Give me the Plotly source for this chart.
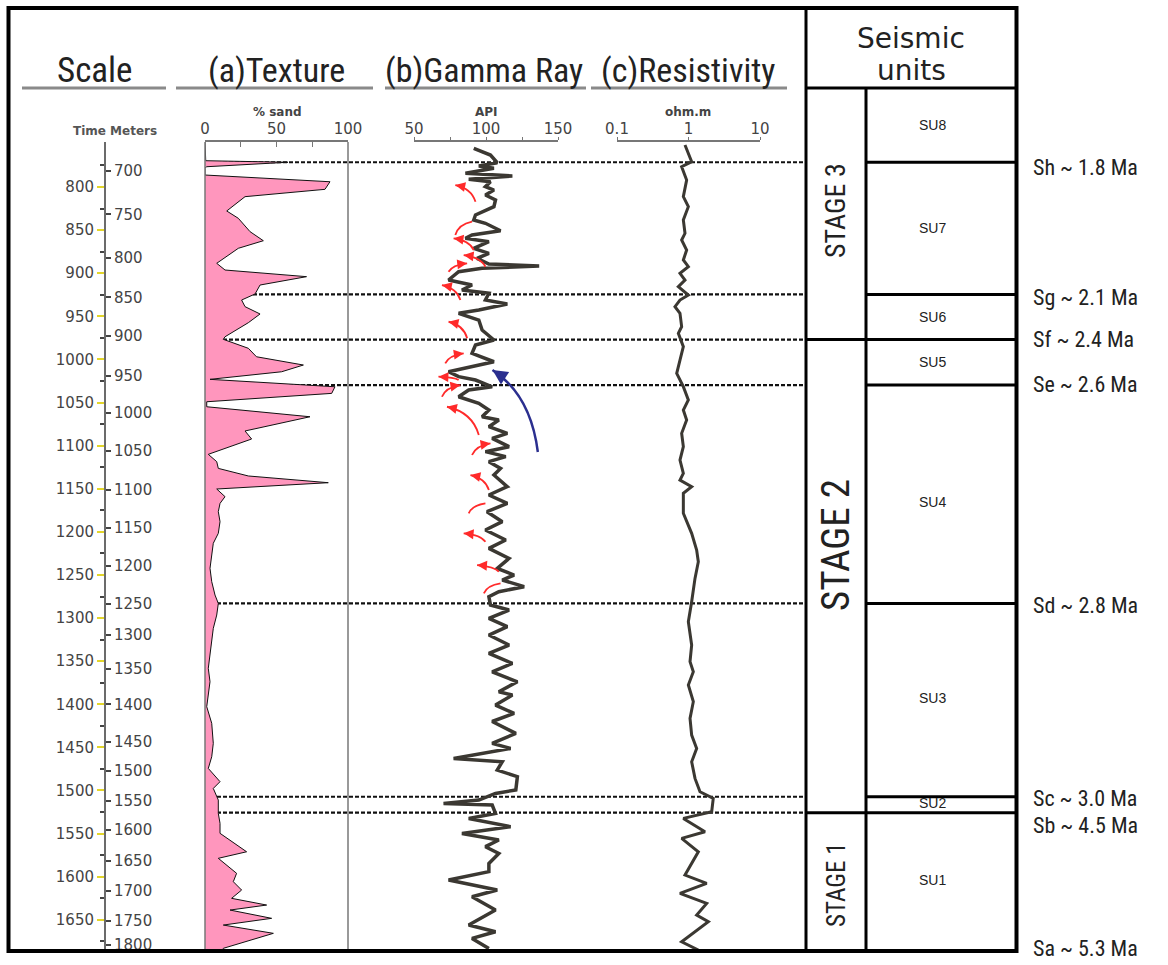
import plotly.graph_objects as go

W, H = 1168, 965

# ---------------- data ----------------
time_ticks = [800, 850, 900, 950, 1000, 1050, 1100, 1150, 1200, 1250, 1300, 1350,
              1400, 1450, 1500, 1550, 1600, 1650]
meter_labels = [700, 750, 800, 850, 900, 950, 1000, 1050, 1100, 1150, 1200, 1250,
                1300, 1350, 1400, 1450, 1500, 1550, 1600, 1650, 1700, 1750, 1800]
meter_time = [781, 831.7, 882, 928, 972.8, 1019.2, 1062, 1106, 1151.5, 1195.6, 1239.6,
              1283.7, 1319.7, 1359.1, 1400, 1443.5, 1477.4, 1512.2, 1545.9, 1581.5,
              1616.3, 1651.1, 1679.3]

tex_time = [747.8, 769.5, 771.3, 776.5, 778.3, 786.1, 793.9, 802.7, 811.2, 827.8, 836.3,
            846.8, 851.8, 862.3, 871.1, 888.5, 896.3, 904, 913.7, 924.1, 931.1, 938.8,
            947.3, 957.4, 973.7, 976.7, 987.1, 996.9, 1006.5, 1014.3, 1023.1, 1031.7,
            1039.4, 1049.1, 1054.9, 1066.5, 1083, 1092.3, 1110.1, 1118.6, 1126.4, 1135.2,
            1143, 1150.3, 1159.2, 1167, 1176.6, 1188.2, 1201.7, 1213.3, 1226.9, 1242.3,
            1257.8, 1273.3, 1283, 1296.5, 1312, 1327.4, 1342.9, 1358.3, 1373.8, 1387.3,
            1402.8, 1422.1, 1445.3, 1460.9, 1474.4, 1489.8, 1497.6, 1511.1, 1526.6,
            1538.1, 1549.7, 1571.1, 1578.7, 1596.1, 1605.8, 1615.5, 1625.1, 1632.9,
            1638.7, 1648.3, 1656.1, 1665.7, 1683.1, 1686.2]
tex_sand = [0, 0.5, 58, 1, 0, 0, 87.4, 83.9, 28, 15.2, 23.3,
            29.1, 31.5, 40.8, 23.3, 8.2, 14, 71, 38.5, 35, 25.6, 28,
            38.5, 30.3, 14, 12.8, 30.3, 36, 68.8, 53.6, 3.5, 90.9,
            88.6, 1.2, 1.2, 73.4, 28, 32.6, 2.3, 8.2, 9.3, 30.3,
            86.2, 8.2, 14, 10.5, 9.3, 10.5, 9.3, 5.8, 4.7, 3.5,
            4.7, 7, 9.3, 8.2, 5.8, 4.7, 3.5, 2.3, 3.5, 2.3,
            1.2, 4.7, 5.8, 4.7, 2.3, 10.5, 5.8, 9.3, 9.3,
            10.5, 10.5, 29.1, 9.3, 22.1, 19.8, 25.6, 18.6, 43.1,
            17.5, 46.6, 12.8, 47.8, 12.8, 12]

gr_time = [755.1, 762.9, 771.8, 775.6, 778.3, 784.1, 787.2, 791.1, 793.8, 799.6, 803.5,
           809.3, 815.1, 822.8, 832.5, 838.3, 842.1, 850.7, 855.7, 859.5, 863.4, 871.1,
           876.9, 882.7, 889.3, 891.6, 894.3, 898.2, 907.9, 913.7, 919.5, 923.3, 931.1,
           935.7, 942.7, 946.5, 954.3, 965.9, 977.5, 983.3, 992.9, 1002.7, 1014.3, 1020,
           1023.9, 1031.7, 1035.5, 1043.3, 1050.9, 1058.7, 1066.5, 1070.3, 1078, 1085.8,
           1091.6, 1101.2, 1107, 1112.8, 1118.6, 1126.4, 1134.1, 1147.6, 1157.3, 1167,
           1176.6, 1188.2, 1197.9, 1209.5, 1219.2, 1230.8, 1242.4, 1250.1, 1255.9,
           1263.6, 1269.4, 1275.2, 1284.9, 1290.7, 1300.4, 1310, 1319.7, 1331.3, 1341,
           1352.6, 1362.3, 1373.9, 1385.5, 1389.3, 1400.9, 1410.6, 1420, 1433.8, 1445.4,
           1451.2, 1462.8, 1466.6, 1476.3, 1484, 1499.5, 1503.4, 1511.1, 1515, 1516.9,
           1526.6, 1532.4, 1542, 1549.8, 1557.5, 1565.2, 1573, 1584.6, 1594.2, 1603.9,
           1611.6, 1615.5, 1623.3, 1638.7, 1656.1, 1663.9, 1671.6, 1683.2]
gr_api = [91.5, 103.1, 107.8, 95, 105.5, 85.7, 118.3, 88, 103.1, 99.6, 105.5,
          99.6, 106.6, 105.5, 92.7, 91.5, 99.6, 110.1, 90.3, 85.7, 102, 91.5,
          102, 93.8, 102, 136.9, 97.3, 81, 74, 90.3, 83.3, 102, 99.6,
          114.8, 95, 81, 95, 97.3, 105.5, 92.7, 90.3, 105.5, 74, 81,
          92.7, 104.3, 88, 81, 95, 102, 97.3, 108.9, 102, 114.8,
          104.3, 116, 99.6, 113.7, 102, 110.1, 105.5, 114.8, 102, 114.8,
          100.7, 111.3, 99.6, 113.7, 102, 116, 107.8, 119.5, 111.3,
          126.5, 108.9, 102, 103.1, 116, 102, 114.8, 102, 116, 102,
          118.3, 104.3, 121.8, 108.9, 118.3, 106.6, 119.5, 104.3, 120.7, 104.3,
          117.1, 77.5, 111.3, 107.8, 121.8, 120.7, 106.6, 95, 70.5, 104.3,
          106.6, 88, 117.1, 83.3, 108.9, 99.6, 108.9, 102, 102, 74,
          97.3, 107.8, 90.3, 106.6, 88, 106.6, 90.3, 102]

res_time = [751.3, 770.6, 776.4, 791.9, 811.2, 822.8, 838.3, 853.7, 861.5, 873.1, 884.7,
            892.4, 900.1, 907.9, 915.6, 925.3, 931.1, 938.8, 946.5, 962, 969.7, 985.2,
            1000.7, 1016.1, 1031.6, 1047.1, 1058.7, 1070.3, 1085.7, 1101.2, 1116.7,
            1132.1, 1139.9, 1147.6, 1155.3, 1178.5, 1201.7, 1221, 1234.6, 1254, 1281,
            1304.2, 1331.3, 1350.6, 1362.2, 1377.7, 1397, 1416.4, 1435.7, 1451.2,
            1466.7, 1486, 1501.5, 1509.2, 1524.7, 1532.4, 1547.9, 1555.6, 1571.1,
            1598.1, 1607.8, 1619.4, 1631, 1644.5, 1652.3, 1675.5, 1685.1]
res_ohm = [0.893, 1.107, 0.802, 0.942, 0.847, 0.995, 0.847, 0.893, 0.802, 0.942, 0.847,
           0.995, 0.760, 0.893, 0.721, 0.995, 0.760, 0.647, 0.760, 0.802, 0.721, 0.847,
           0.760, 0.684, 0.847, 0.995, 0.847, 0.942, 0.802, 0.847, 0.760,
           0.847, 0.760, 1.107, 0.847, 0.847, 1.107, 1.30, 1.372, 1.233, 1.107,
           0.995, 1.107, 1.05, 1.168, 0.995, 1.168, 1.05, 1.107, 1.30,
           1.107, 1.233, 1.448, 2.22, 2.11, 0.847, 1.70, 0.802, 1.372,
           0.893, 1.795, 0.760, 1.795, 1.30, 1.894, 0.802, 1.372]

boundary_names = ["Sh ~ 1.8 Ma", "Sg ~ 2.1 Ma", "Sf ~ 2.4 Ma", "Se ~ 2.6 Ma",
                  "Sd ~ 2.8 Ma", "Sc ~ 3.0 Ma", "Sb ~ 4.5 Ma"]
boundary_time = [771.3, 924.6, 977, 1029.7, 1283, 1507.3, 1525.8]
stage_boundary_time = [977, 1525.8]
units = ["SU8", "SU7", "SU6", "SU5", "SU4", "SU3", "SU2", "SU1"]
stages = ["STAGE 3", "STAGE 2", "STAGE 1"]

# red arrows on gamma ray (head API, head time, tail API, tail time)
red_head_api = [78.7, 90.3, 77.5, 84.5, 86.9, 69.4, 74, 84.5, 67, 82.2, 72.9, 103.1,
                89.2, 99.6, 84.5, 93.8, 110.1]
red_head_t = [797.7, 840.3, 859.5, 878.9, 888.5, 913.7, 956.3, 992.9, 1020, 1029.7,
              1054.9, 1097.3, 1134.1, 1166.9, 1201.7, 1238.5, 1259.7]
red_tail_api = [92.7, 78.7, 91.5, 99.6, 74, 82.2, 86.9, 71.7, 81, 69.4, 95, 90.3,
                102, 88, 99.6, 108.9, 98.5]
red_tail_t = [817.1, 855.7, 873.1, 892.5, 898.3, 931.1, 975.5, 1004.5, 1023.9, 1043.3,
              1087.7, 1110.9, 1151.5, 1178.5, 1211.5, 1246.3, 1271.3]
blue_arrow_api = [136, 131, 104.5]
blue_arrow_t = [1107.4, 1041, 1012.3]

T_TOP, T_BOTTOM = 747.8, 1686.2

# ---------------- helpers ----------------
def X(px):
    return px / W


def Y(py):
    return 1 - py / H


NARROW = "Liberation Sans Narrow, Arial Narrow, Roboto Condensed, Liberation Sans, sans-serif"
SANS = "Liberation Sans, Arial, sans-serif"
WIDE = "DejaVu Sans, Verdana, sans-serif"
LINE = "#3b3832"

fig = go.Figure()

fig.add_trace(go.Scatter(x=tex_sand, y=tex_time, xaxis="x", yaxis="y", mode="lines",
                         fill="tozerox", fillcolor="#ff96bd",
                         line=dict(color="#111", width=1), hoverinfo="skip"))
fig.add_trace(go.Scatter(x=gr_api, y=gr_time, xaxis="x2", yaxis="y", mode="lines",
                         line=dict(color=LINE, width=3.5), hoverinfo="skip"))
fig.add_trace(go.Scatter(x=res_ohm, y=res_time, xaxis="x3", yaxis="y", mode="lines",
                         line=dict(color=LINE, width=3), hoverinfo="skip"))
fig.add_trace(go.Scatter(x=[None], y=[None], xaxis="x", yaxis="y2", mode="lines",
                         hoverinfo="skip"))

tickfont = dict(family=WIDE, size=15, color="#444")

fig.update_layout(
    width=W, height=H, margin=dict(l=0, r=0, t=0, b=0, autoexpand=False),
    paper_bgcolor="white", plot_bgcolor="rgba(0,0,0,0)", showlegend=False,
    yaxis=dict(domain=[Y(951), Y(142)], range=[T_BOTTOM, T_TOP], anchor="free",
               position=X(105), side="left", showline=True, linecolor="#6b6b6b",
               linewidth=2, ticks="outside", ticklen=7, tickwidth=2, automargin=False,
               tickcolor="#e3d62a", tickmode="array", tickvals=time_ticks,
               ticktext=[str(v) for v in time_ticks], tickfont=tickfont,
               showgrid=False, zeroline=False,
               minor=dict(tickmode="linear", tick0=775, dtick=50, ticks="outside",
                          ticklen=4, tickcolor="#444", tickwidth=1.5, showgrid=False)),
    yaxis2=dict(overlaying="y", side="right", anchor="free", position=X(105),
                range=[T_BOTTOM, T_TOP], tickmode="array", tickvals=meter_time,
                ticktext=[str(v) for v in meter_labels], ticks="outside", ticklen=5,
                tickwidth=1.5, tickcolor="#444", showline=False, showgrid=False,
                zeroline=False, tickfont=tickfont, automargin=False),
    xaxis=dict(domain=[X(205), X(348)], range=[0, 100], anchor="y", side="top",
               showline=True, linecolor="#777", linewidth=1.5, ticks="inside",
               ticklen=5, tickcolor="#777", tickmode="array", automargin=False,
               tickvals=[0, 25, 50, 75, 100], ticktext=["0", "", "50", "", "100"],
               tickfont=tickfont, showgrid=False, zeroline=False),
    xaxis2=dict(domain=[X(414), X(558)], range=[50, 150], anchor="y", side="top",
                showline=True, linecolor="#777", linewidth=1.5, ticks="outside",
                ticklen=3, tickcolor="#777", tickmode="array", automargin=False,
                tickvals=[50, 75, 100, 125, 150], ticktext=["50", "", "100", "", "150"],
                tickfont=tickfont, showgrid=False, zeroline=False,
                ticklabelstandoff=-3),
    xaxis3=dict(domain=[X(617), X(760)], range=[-1, 1], type="log", anchor="y",
                side="top", showline=True, linecolor="#777", linewidth=1.5,
                ticks="outside", ticklen=3, tickcolor="#777", tickmode="array",
                tickvals=[0.1, 1, 10], ticktext=["0.1", "1", "10"], automargin=False,
                tickfont=tickfont, showgrid=False, zeroline=False,
                ticklabelstandoff=-3),
)

shapes = []
# boundaries (dashed) across logs
for t in boundary_time:
    shapes.append(dict(type="line", xref="paper", yref="y", x0=X(205), x1=X(806),
                       y0=t, y1=t, layer="below",
                       line=dict(color="#111", width=2.2, dash="4px,2px")))
# texture column edges
for px in (205, 348):
    shapes.append(dict(type="line", xref="paper", yref="paper", x0=X(px), x1=X(px),
                       y0=Y(951), y1=Y(142), line=dict(color="#777", width=1.5)))
# header underlines
for a, b in [(22, 166), (176, 373), (385, 586), (591, 787)]:
    shapes.append(dict(type="line", xref="paper", yref="paper", x0=X(a), x1=X(b),
                       y0=Y(88), y1=Y(88), line=dict(color="#8a8a8a", width=3)))
# frame and seismic units table
shapes.append(dict(type="rect", xref="paper", yref="paper", x0=X(8.5), x1=X(1016.5),
                   y0=Y(951), y1=Y(8), line=dict(color="#000", width=4)))
shapes.append(dict(type="line", xref="paper", yref="paper", x0=X(806), x1=X(806),
                   y0=Y(951), y1=Y(8), line=dict(color="#000", width=3)))
shapes.append(dict(type="line", xref="paper", yref="paper", x0=X(806), x1=X(1016.5),
                   y0=Y(88), y1=Y(88), line=dict(color="#000", width=3)))
shapes.append(dict(type="line", xref="paper", yref="paper", x0=X(866), x1=X(866),
                   y0=Y(951), y1=Y(88), line=dict(color="#000", width=3)))
for t in boundary_time:
    shapes.append(dict(type="line", xref="paper", yref="y", x0=X(866), x1=X(1016.5),
                       y0=t, y1=t, line=dict(color="#000", width=3)))
for t in stage_boundary_time:
    shapes.append(dict(type="line", xref="paper", yref="y", x0=X(806), x1=X(866),
                       y0=t, y1=t, line=dict(color="#000", width=3)))

# arrows
annotations = []
for ha, ht, ta, tt in zip(red_head_api, red_head_t, red_tail_api, red_tail_t):
    ca = ta + 0.2 * (ha - ta)
    ct = tt + 0.8 * (ht - tt)
    shapes.append(dict(type="path", xref="x2", yref="y",
                       path=f"M {ta},{tt} Q {ca},{ct} {ha},{ht}",
                       line=dict(color="#ff2a2a", width=1.8)))
    annotations.append(dict(x=ha, y=ht, xref="x2", yref="y", axref="x2", ayref="y",
                            ax=ha + 0.3 * (ca - ha), ay=ht + 0.3 * (ct - ht), text="",
                            showarrow=True, arrowhead=2, arrowsize=1.1, arrowwidth=1.8,
                            arrowcolor="#ff2a2a", standoff=0, startstandoff=0))
ba, bt = blue_arrow_api, blue_arrow_t
shapes.append(dict(type="path", xref="x2", yref="y",
                   path=f"M {ba[0]},{bt[0]} Q {ba[1]},{bt[1]} {ba[2]},{bt[2]}",
                   line=dict(color="#2b2f8f", width=2.5)))
annotations.append(dict(x=ba[2], y=bt[2], xref="x2", yref="y", axref="x2", ayref="y",
                        ax=ba[2] + 0.2 * (ba[1] - ba[2]), ay=bt[2] + 0.2 * (bt[1] - bt[2]),
                        text="", showarrow=True, arrowhead=2, arrowsize=1.2,
                        arrowwidth=2.5, arrowcolor="#2b2f8f", standoff=0,
                        startstandoff=0))


def txt(text, px, py, size, family=SANS, color="#222", xanchor="center", angle=0,
        bold=False):
    if bold:
        text = f"<b>{text}</b>"
    annotations.append(dict(text=text, x=X(px), y=Y(py), xref="paper", yref="paper",
                            showarrow=False, xanchor=xanchor, yanchor="middle",
                            textangle=angle, font=dict(family=family, size=size,
                                                       color=color)))


# headers
txt("Scale", 95, 70, 35, NARROW)
txt("(a)Texture", 276, 70, 34, NARROW)
txt("(b)Gamma Ray", 484, 70, 34, NARROW)
txt("(c)Resistivity", 688, 70, 34, NARROW)
txt("Seismic", 911, 39, 28, WIDE)
txt("units", 911, 71, 28, WIDE)
txt("Time Meters", 115, 131, 12, WIDE, "#555", bold=True)
txt("% sand", 277, 112, 12, WIDE, "#444", bold=True)
txt("API", 487, 112, 12, WIDE, "#444", bold=True)
txt("ohm.m", 688, 112, 12, WIDE, "#444", bold=True)

# seismic units
su_py = [125, 228, 317, 362, 502, 698, 803, 880]
for name, py in zip(units, su_py):
    txt(name, 932, py, 14, SANS, "#222")
stage_py = [211, 545, 885]
stage_size = [28, 39, 25]
for name, py, sz in zip(stages, stage_py, stage_size):
    txt(name, 836, py, sz, NARROW, "#222", angle=-90)

label_py = [168, 297, 340, 384, 605, 798, 825]
for name, py in zip(boundary_names, label_py):
    txt(name, 1031, py, 22, NARROW, "#222", xanchor="left")
txt("Sa ~ 5.3 Ma", 1031, 948, 22, NARROW, "#222", xanchor="left")

fig.update_layout(shapes=shapes, annotations=annotations)
fig.write_html("out.html")
